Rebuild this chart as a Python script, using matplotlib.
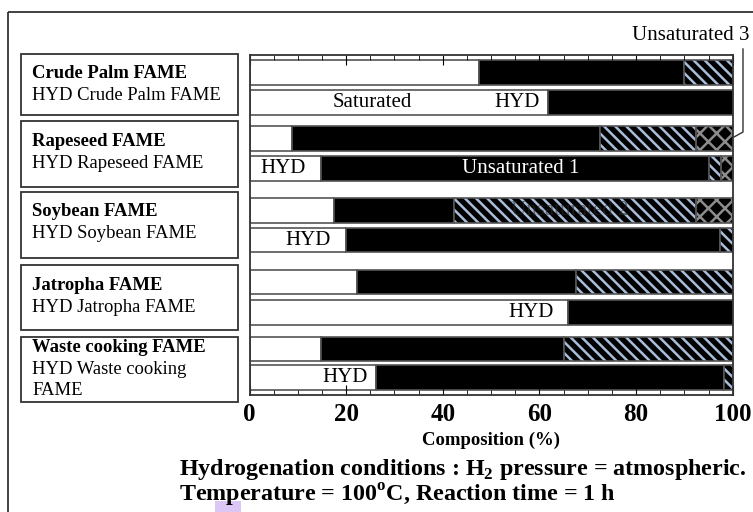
import numpy as np
import matplotlib.pyplot as plt
from matplotlib.patches import Rectangle

plt.rcParams['font.family'] = ['Liberation Serif', 'DejaVu Serif']
plt.rcParams['mathtext.fontset'] = 'custom'
plt.rcParams['mathtext.rm'] = 'Liberation Serif'
plt.rcParams['mathtext.bf'] = 'Liberation Serif:bold'
plt.rcParams['hatch.linewidth'] = 1.8

# data: composition (%) of each sample, top to bottom
samples = ["Crude Palm FAME", "HYD Crude Palm FAME",
           "Rapeseed FAME", "HYD Rapeseed FAME",
           "Soybean FAME", "HYD Soybean FAME",
           "Jatropha FAME", "HYD Jatropha FAME",
           "Waste cooking FAME", "HYD Waste cooking FAME"]
saturated = [47.4, 61.7, 8.8, 14.8, 17.4, 20.0, 22.3, 66.0, 14.8, 26.2]
unsat1 = [42.6, 38.3, 63.7, 80.2, 25.0, 77.4, 45.3, 34.0, 50.2, 72.0]
unsat2 = [10.0, 0.0, 20.0, 2.5, 50.1, 2.6, 32.4, 0.0, 35.0, 1.8]
unsat3 = [0.0, 0.0, 7.5, 2.5, 7.5, 0.0, 0.0, 0.0, 0.0, 0.0]

box_titles = ["Crude Palm FAME", "Rapeseed FAME", "Soybean FAME",
              "Jatropha FAME", "Waste cooking FAME"]
box_subs = [["HYD Crude Palm FAME"], ["HYD Rapeseed FAME"], ["HYD Soybean FAME"],
            ["HYD Jatropha FAME"], ["HYD Waste cooking", "FAME"]]
xticks = [0, 20, 40, 60, 80, 100]

# layout (pixel rows of the bars, figure is 753x512)
bar_y = [72.5, 102.5, 138.5, 168.5, 210.5, 240, 282, 312.5, 349, 377.5]
bar_h = 24.5

W, H = 753, 512
fig = plt.figure(figsize=(W / 100, H / 100), dpi=100)
fig.patch.set_facecolor('white')

# overlay in pixel coordinates for frame, boxes and notes
bg = fig.add_axes([0, 0, 1, 1])
bg.set_xlim(0, W)
bg.set_ylim(H, 0)
bg.axis('off')

ax = fig.add_axes([249.5 / W, 1 - 395 / H, (732.7 - 249.5) / W, (395 - 54.5) / H])
ax.set_xlim(0, 100)
ax.set_ylim(395, 54.5)

edge = '#555555'
sat = np.array(saturated)
u1 = np.array(unsat1)
u2 = np.array(unsat2)
u3 = np.array(unsat3)

ax.barh(bar_y, sat, height=bar_h, color='white', edgecolor=edge, linewidth=1.2)
ax.barh(bar_y, u1, left=sat, height=bar_h, color='black', edgecolor=edge, linewidth=1.2)
ax.barh(bar_y, u2, left=sat + u1, height=bar_h, color='black',
        edgecolor='#a9bdd9', hatch='\\\\\\', linewidth=0)
ax.barh(bar_y, u3, left=sat + u1 + u2, height=bar_h, color='black',
        edgecolor='#8c8c8c', hatch='xx', linewidth=0)
for left, w in [(sat + u1, u2), (sat + u1 + u2, u3)]:
    m = w > 0
    ax.barh(np.array(bar_y)[m], w[m], left=left[m], height=bar_h, fill=False,
            edgecolor=edge, linewidth=1.2)

ax.set_xticks(xticks)
ax.set_xticks(np.arange(0, 101, 5), minor=True)
ax.set_xticklabels([str(t) for t in xticks], fontsize=18, fontweight='bold')
ax.tick_params(axis='x', which='both', direction='in', top=True, bottom=True, pad=6)
ax.tick_params(axis='x', which='major', length=7)
ax.tick_params(axis='x', which='minor', length=3.5)
ax.set_yticks([])
for s in ax.spines.values():
    s.set_linewidth(1.3)
    s.set_color('#333333')
ax.set_xlabel("Composition (%)", fontsize=13.5, fontweight='bold', labelpad=4)

# labels inside bars
txt = dict(fontsize=15, va='center', ha='center')
ax.text(25.5, bar_y[1], "Saturated", color='black', **txt)
ax.text(55.3, bar_y[1], "HYD", color='black', **txt)
ax.text(6.9, bar_y[3], "HYD", color='black', **txt)
ax.text(56.2, bar_y[3], "Unsaturated 1", color='white', **txt)
ax.text(66.3, bar_y[4], "Unsaturated 2", color='#2a2a2a', alpha=0.6, **txt)
ax.text(12.1, bar_y[5], "HYD", color='black', **txt)
ax.text(58.2, bar_y[7], "HYD", color='black', **txt)
ax.text(19.7, bar_y[9], "HYD", color='black', **txt)

# outer frame
bg.add_patch(Rectangle((8, 12), W, H, fill=False, edgecolor='#333333', lw=1.3))

# sample boxes
box_top = [54, 121, 192, 265, 337]
box_bot = [115, 187, 258, 330, 402]
for t, subs, y0, y1 in zip(box_titles, box_subs, box_top, box_bot):
    bg.add_patch(Rectangle((21, y0), 217, y1 - y0, fill=False,
                           edgecolor='#333333', lw=1.3))
    first = y0 + 20 if len(subs) == 1 else y0 + 10
    bg.text(32, first, t, fontsize=13.4, fontweight='bold', va='center', ha='left')
    for k, s in enumerate(subs):
        bg.text(32, first + 22 + 21.5 * k, s, fontsize=13.4, va='center', ha='left')

# Unsaturated 3 callout
bg.text(750, 36, "Unsaturated 3", fontsize=15, ha='right', va='center')
bg.plot([743, 743, 734], [49, 132, 137], color='#333333', lw=1.0)

# conditions
bg.add_patch(Rectangle((215, 501), 26, 12, color='#dcc6f5', lw=0, zorder=0))
bg.text(179, 469, r"Hydrogenation conditions : H$_\mathbf{2}$ pressure = atmospheric.",
        fontsize=17.3, fontweight='bold', ha='left', va='center')
bg.text(179, 495, r"Temperature = 100$^\mathbf{o}$C, Reaction time = 1 h",
        fontsize=17.3, fontweight='bold', ha='left', va='center')

fig.savefig("out.png", dpi=100, facecolor='white')
